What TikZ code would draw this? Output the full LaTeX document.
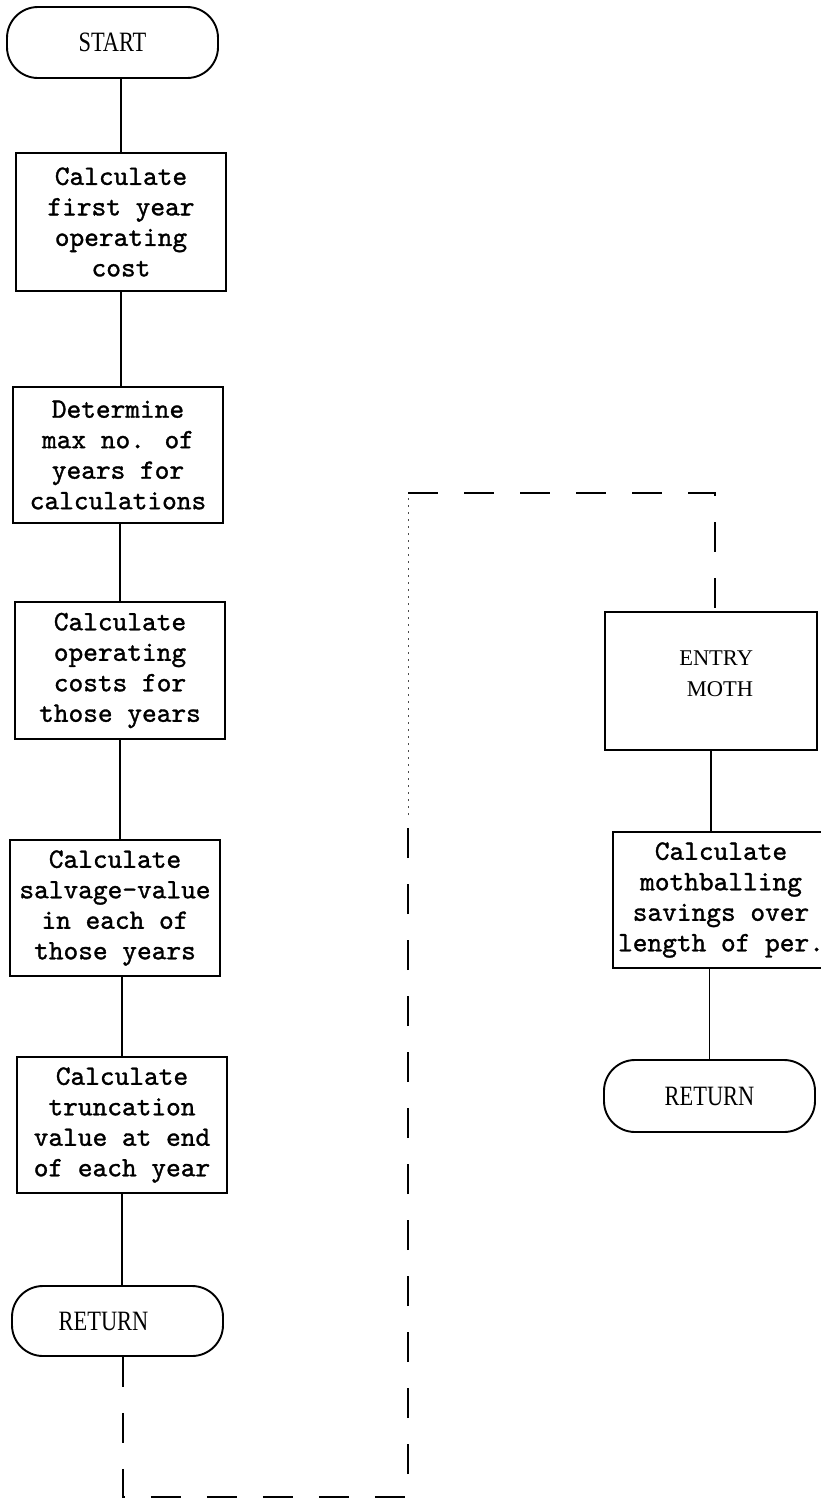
\documentclass[tikz,border=0pt]{standalone}
\usepackage{graphicx}
\usepackage{fontspec}
\newfontfamily\twfont{lmmono10-regular.otf}[FakeBold=1.2]
\newfontfamily\termfont{Liberation Serif}
\newcommand{\tlabel}[1]{\scalebox{0.8}[1]{#1}}
\tikzset{
  stepbox/.style={draw, line width=1.9pt, minimum width=210pt, minimum height=136pt,
    inner sep=0pt, align=center, font=\fontsize{28}{30.5}\selectfont\twfont},
  term/.style={draw, line width=1.9pt, rounded corners=31pt, minimum width=211pt,
    minimum height=71pt, inner sep=0pt, font=\fontsize{28}{30}\selectfont\termfont},
  flow/.style={line width=1.9pt},
  dashflow/.style={line width=2.2pt, dash pattern=on 30pt off 26pt},
  faintflow/.style={line width=0.9pt, dash pattern=on 2pt off 5pt, black!70},
}
\begin{document}
\begin{tikzpicture}[x=1pt, y=-1pt]
\useasboundingbox (0,0) rectangle (821,1500);
% left column
\node[term] (start) at (112.5,42.5) {\tlabel{START}};
\node[stepbox, minimum height=138pt] (b1) at (121,222) {Calculate\\first year\\operating\\cost};
\node[stepbox] (b2) at (118,455) {Determine\\max no. of\\years for\\calculations};
\node[stepbox, minimum height=137pt] (b3) at (120,670.5) {Calculate\\operating\\costs for\\those years};
\node[stepbox] (b4) at (115,908) {Calculate\\salvage-value\\in each of\\those years};
\node[stepbox] (b5) at (122,1125) {Calculate\\truncation\\value at end\\of each year};
\node[term, minimum height=70pt] (ret1) at (117.5,1321) {\tlabel{RETURN}\kern28pt};
% right column
\node[stepbox, minimum width=212pt, minimum height=138pt, align=right, text width=84pt,
      font=\fontsize{22.5}{31}\selectfont\termfont] (entry) at (711,681) {ENTRY\\MOTH\\[-16pt]\mbox{}};
\node[stepbox, minimum width=216pt] (calc) at (721,900) {Calculate\\mothballing\\savings over\\length of per.};
\node[term, minimum height=72pt] (ret2) at (709.5,1096) {\tlabel{RETURN}};
% connectors
\draw[flow] (b1.north) -- (b1.north |- start.south);
\draw[flow] (b1.south) -- (b1.south |- b2.north);
\draw[flow] (b3.north) -- (b3.north |- b2.south);
\draw[flow] (b3.south) -- (b3.south |- b4.north);
\draw[flow] (b5.north) -- (b5.north |- b4.south);
\draw[flow] (b5.south) -- (b5.south |- ret1.north);
\draw[flow] (entry.south) -- (entry.south |- calc.north);
\draw[flow] (ret2.north) -- (ret2.north |- calc.south);
% dashed off-page return path
\coordinate (d1) at (123,1497);
\coordinate (d2) at (408,1497);
\coordinate (d3) at (408,815);
\coordinate (d4) at (408,493);
\coordinate (d5) at (715,493);
\draw[dashflow] (d1 |- ret1.south) -- (d1) -- (d2) -- (d3);
\draw[faintflow] (d3) -- (d4);
\draw[dashflow] (d4) -- (d5) -- (d5 |- entry.north);
\end{tikzpicture}
\end{document}
